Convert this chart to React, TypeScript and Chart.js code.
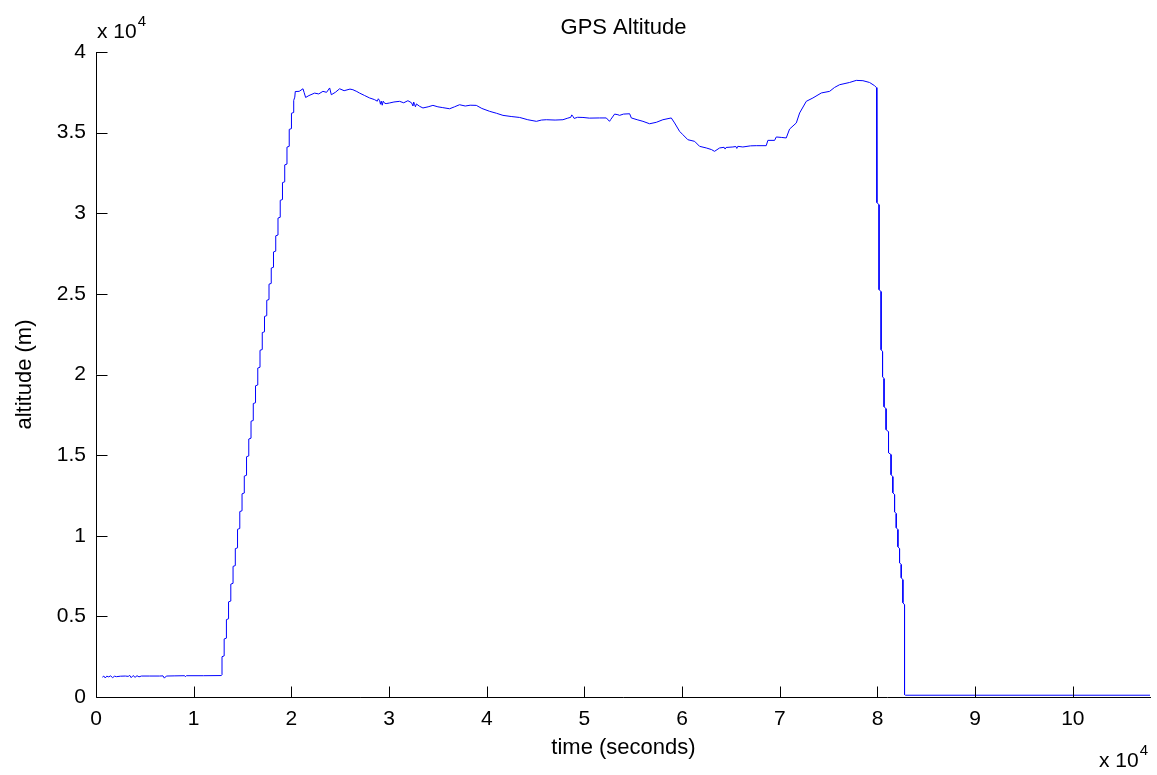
import { useEffect, useRef } from "react";
import { Chart, registerables } from "chart.js";

Chart.register(...registerables);

// Balloon flight GPS altitude log: time in seconds, altitude in metres.
const padTime = [650, 800, 950, 1100, 1300, 1500, 1700, 1900, 2100, 2500, 3000, 3300, 3450, 3600, 3800, 4000, 4200, 4400, 4650, 5500, 6500, 6860, 7000, 7200, 8000, 9080, 9150, 9250, 11000, 12830];
const padAlt = [1230, 1300, 1180, 1290, 1250, 1310, 1200, 1290, 1260, 1290, 1300, 1280, 1340, 1200, 1330, 1220, 1320, 1250, 1300, 1300, 1300, 1310, 1170, 1300, 1310, 1320, 1260, 1320, 1320, 1330];

// Ascent: the fix updates in stair steps (vertical rise, short sideways jog).
const ascentTime = [
  12900, 12900, 13120, 13120, 13350, 13350, 13570, 13570, 13800, 13800,
  14030, 14030, 14260, 14260, 14490, 14490, 14720, 14720, 14950, 14950,
  15180, 15180, 15410, 15410, 15640, 15640, 15870, 15870, 16100, 16100,
  16330, 16330, 16560, 16560, 16790, 16790, 17020, 17020, 17250, 17250,
  17480, 17480, 17710, 17710, 17940, 17940, 18170, 18170, 18400, 18400,
  18630, 18630, 18860, 18860, 19090, 19090, 19320, 19320, 19550, 19550,
  19780, 19780, 20010, 20010, 20240, 20240, 20350, 20400,
];
const ascentAlt = [
  1380, 2500, 2550, 3600, 3650, 4800, 4850, 5900, 5950, 7000,
  7050, 8100, 8150, 9200, 9250, 10400, 10450, 11500, 11550, 12600,
  12650, 13700, 13750, 14900, 14950, 16000, 16050, 17100, 17150, 18200,
  18250, 19300, 19350, 20400, 20450, 21500, 21550, 22600, 22650, 23600,
  23650, 24600, 24650, 25600, 25650, 26600, 26650, 27600, 27650, 28600,
  28650, 29700, 29750, 30800, 30850, 31900, 31950, 33000, 33050, 34100,
  34150, 35200, 35250, 36200, 36250, 37000, 37200, 37550,
];

// Float phase at altitude.
const floatTime = [
  20800, 21190, 21300, 21460, 21800, 22380, 22800, 23230, 23600, 23920,
  24090, 24500, 24940, 25400, 26000, 26300, 26700, 26990, 27500, 28010,
  28500, 28800, 28900, 29040, 29120, 29210, 29300, 29400, 29550, 29700,
  30060, 30500, 31080, 31500, 31930, 32300, 32450, 32520, 32620, 32700,
  32800, 33130, 33470, 34000, 34490, 35000, 35500, 36200, 36700, 37220,
  37800, 38300, 38930, 39500, 40300, 41000, 41660, 42500, 43370, 44200,
  45080, 45600, 46100, 47000, 47800, 48300, 48600, 48700, 48820, 48950,
  49300, 49850, 50500, 51550, 52240, 52570, 52700, 53090, 53430, 53600,
  54000, 54630, 54800, 55400, 55990, 56670, 57360, 58030, 58890, 59230,
  59740, 60080, 60590, 61280, 61790, 62470, 63000, 63320, 63840, 64300,
  64400, 64500, 65200, 65500, 65600, 65700, 66220, 67000, 67590, 68610,
  68780, 69470, 69640, 70200, 70660, 71000, 71690, 72030, 72710, 73390,
  74250, 75100, 75600, 76120, 77140, 77830, 78510, 79190, 79700, 79900,
];
const floatAlt = [
  37560, 37720, 37500, 37180, 37300, 37450, 37400, 37560, 37500, 37770,
  37350, 37500, 37720, 37600, 37700, 37660, 37550, 37450, 37300, 37150,
  37050, 36950, 37100, 36980, 36760, 36950, 36700, 36950, 36820, 36800,
  36840, 36900, 36940, 36850, 36980, 36850, 36650, 36900, 36730, 36600,
  36780, 36630, 36530, 36600, 36690, 36600, 36550, 36480, 36600, 36730,
  36650, 36700, 36690, 36500, 36320, 36200, 36070, 36000, 35940, 35800,
  35700, 35780, 35800, 35780, 35800, 35900, 35950, 36100, 36010, 35880,
  35950, 35940, 35900, 35910, 35910, 35700, 35820, 36150, 36110, 36070,
  36150, 36170, 35910, 35800, 35700, 35550, 35640, 35800, 35910, 35600,
  35080, 34870, 34560, 34460, 34150, 34050, 33950, 33840, 34050, 34090,
  33980, 34080, 34110, 34140, 34020, 34150, 34110, 34180, 34190, 34190,
  34520, 34520, 34730, 34700, 34670, 35220, 35600, 36220, 36940, 37150,
  37460, 37560, 37800, 37970, 38110, 38240, 38220, 38110, 37910, 37790,
];

// Parachute descent, also stepped.
const descentTime = [
  79940, 79940, 80160, 80160, 80370, 80370, 80520, 80520, 80670, 80670,
  80880, 80880, 81130, 81130, 81390, 81390, 81570, 81570, 81750, 81750,
  81920, 81920, 82090, 82090, 82260, 82260, 82430, 82430, 82600, 82600,
  82770, 82770,
];
const descentAlt = [
  37790, 30660, 30530, 25260, 25140, 21540, 21420, 19870, 19740, 18000,
  17880, 16580, 16450, 15150, 15030, 13790, 13660, 12670, 12550, 11490,
  11370, 10500, 10380, 9320, 9200, 8330, 8210, 7400, 7270, 5850,
  5720, 150,
];

// On the ground after landing.
const groundTime = [82870, 90000, 100000, 107900];
const groundAlt = [110, 110, 110, 110];

const xTickValues = [0, 1, 2, 3, 4, 5, 6, 7, 8, 9, 10];
const yTickValues = [0, 0.5, 1, 1.5, 2, 2.5, 3, 3.5, 4];
const axisExponent = 10000;
const xMax = 108000;
const yMax = 40000;

const titleText = "GPS Altitude";
const xTitle = "time (seconds)";
const yTitle = "altitude (m)";

const FONT = "'Liberation Sans', Arial, Helvetica, sans-serif";

function buildPoints() {
  const times = [...padTime, ...ascentTime, ...floatTime, ...descentTime, ...groundTime];
  const alts = [...padAlt, ...ascentAlt, ...floatAlt, ...descentAlt, ...groundAlt];
  return times.map((t, i) => ({ x: t, y: alts[i] }));
}

const axesPlugin = {
  id: "matlabAxes",
  afterDraw(chart: any) {
    const { ctx, chartArea: a, scales } = chart;
    const xs = scales.x;
    const ys = scales.y;
    const L = Math.round(a.left) + 0.5;
    const B = Math.round(a.bottom) + 0.5;
    ctx.save();
    ctx.strokeStyle = "#000";
    ctx.lineWidth = 1;
    ctx.beginPath();
    ctx.moveTo(L, Math.round(a.top));
    ctx.lineTo(L, B);
    ctx.lineTo(Math.round(a.right), B);
    for (const v of xTickValues) {
      const px = Math.round(xs.getPixelForValue(v * axisExponent)) + 0.5;
      ctx.moveTo(px, B);
      ctx.lineTo(px, B - 11);
    }
    for (const v of yTickValues) {
      const py = Math.round(ys.getPixelForValue(v * axisExponent)) + 0.5;
      ctx.moveTo(L, py);
      ctx.lineTo(L + 11, py);
    }
    ctx.stroke();

    ctx.fillStyle = "#000";
    ctx.textBaseline = "middle";
    ctx.textAlign = "center";
    ctx.font = `22px ${FONT}`;
    const cx = (a.left + a.right) / 2;
    ctx.fillText(titleText, cx, 28);
    ctx.fillText(xTitle, cx, 748);

    ctx.save();
    ctx.translate(25, (a.top + a.bottom) / 2);
    ctx.rotate(-Math.PI / 2);
    ctx.fillText(yTitle, 0, 0);
    ctx.restore();

    // "x 10^4" exponent labels
    ctx.textAlign = "left";
    ctx.textBaseline = "alphabetic";
    const drawExp = (x: number, baseline: number) => {
      ctx.font = `21px ${FONT}`;
      ctx.fillText("x 10", x, baseline);
      const w = ctx.measureText("x 10").width;
      ctx.font = `15px ${FONT}`;
      ctx.fillText("4", x + w + 1, baseline - 12);
    };
    drawExp(97, 38);
    drawExp(1099, 767);
    ctx.restore();
  },
};

export default function App() {
  const canvasRef = useRef<HTMLCanvasElement | null>(null);

  useEffect(() => {
    const canvas = canvasRef.current;
    if (!canvas) return;
    const chart = new Chart(canvas, {
      type: "line",
      data: {
        datasets: [
          {
            data: buildPoints(),
            borderColor: "#0000ff",
            borderWidth: 1,
            pointRadius: 0,
            tension: 0,
            fill: false,
          },
        ],
      },
      options: {
        responsive: false,
        animation: false,
        parsing: false,
        normalized: true,
        layout: { padding: { top: 52, right: 6, left: 0, bottom: 0 } },
        plugins: {
          legend: { display: false },
          title: { display: false },
          tooltip: { enabled: false },
        },
        scales: {
          x: {
            type: "linear",
            min: 0,
            max: xMax,
            grid: { display: false, drawTicks: false },
            border: { display: false },
            afterBuildTicks: (s: any) => {
              s.ticks = xTickValues.map((v) => ({ value: v * axisExponent }));
            },
            afterFit: (s: any) => {
              s.height = 78;
            },
            ticks: {
              padding: 10,
              maxRotation: 0,
              autoSkip: false,
              color: "#000",
              font: { family: FONT, size: 21 },
              callback: (v: any) => String(Number(v) / axisExponent),
            },
          },
          y: {
            type: "linear",
            min: 0,
            max: yMax,
            grid: { display: false, drawTicks: false },
            border: { display: false },
            afterBuildTicks: (s: any) => {
              s.ticks = yTickValues.map((v) => ({ value: v * axisExponent }));
            },
            afterFit: (s: any) => {
              s.width = 96;
            },
            ticks: {
              padding: 10,
              autoSkip: false,
              color: "#000",
              font: { family: FONT, size: 21 },
              callback: (v: any) => String(Number(v) / axisExponent),
            },
          },
        },
      },
      plugins: [axesPlugin],
    });
    return () => chart.destroy();
  }, []);

  return (
    <div style={{ position: "absolute", left: 0, top: 0, width: 1157, height: 775, background: "#fff" }}>
      <canvas ref={canvasRef} width={1157} height={775} />
    </div>
  );
}
